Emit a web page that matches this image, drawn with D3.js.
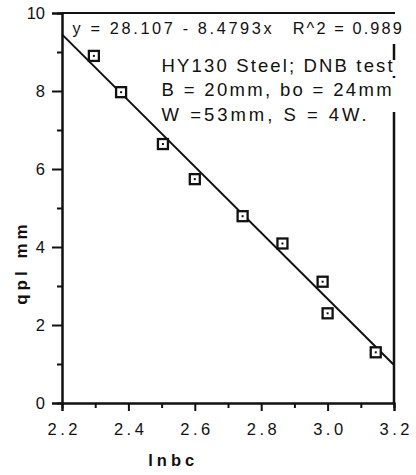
<!DOCTYPE html>
<html>
<head>
<meta charset="utf-8">
<script src="https://cdn.jsdelivr.net/npm/d3@7"></script>
<style>
  body { margin: 0; background: #fff; }
  text { font-family: "Liberation Sans", Arial, sans-serif; fill: #111; }
</style>
</head>
<body>
<div id="graf"></div>
<script>
// datos
const lnbc = [2.296, 2.378, 2.504, 2.60, 2.744, 2.864, 2.985, 3.00, 3.145]
const qpl  = [8.90, 7.97, 6.64, 5.74, 4.79, 4.09, 3.11, 2.30, 1.30]
const xTicks = [2.2, 2.4, 2.6, 2.8, 3.0, 3.2]
const xMinor = [2.3, 2.5, 2.7, 2.9, 3.1]
const yTicks = [0, 2, 4, 6, 8, 10]
const yMinor = [1, 3, 5, 7, 9]
const fit = { a: 28.107, b: -8.4793 }
const ecuacion = ['y = 28.107 - 8.4793x', 'R^2 = 0.989']
const notas = ['HY130 Steel; DNB test', 'B = 20mm, bo = 24mm', 'W =53mm, S = 4W.']

const ancho_total = 416, alto_total = 475
const margins = { top: 13, left: 62, right: 22, bottom: 72 }
const ancho = ancho_total - margins.left - margins.right
const alto = alto_total - margins.top - margins.bottom

const svg = d3.select('#graf').append('svg')
  .attr('width', ancho_total).attr('height', alto_total)
const g = svg.append('g').attr('transform', `translate(${margins.left},${margins.top})`)

const x = d3.scaleLinear().domain([2.2, 3.2]).range([0, ancho])
const y = d3.scaleLinear().domain([0, 10]).range([alto, 0])

// marco: arriba, y derecha cortada por los textos
g.append('line').attr('x1', 0).attr('x2', ancho + 1).attr('y1', 0).attr('y2', 0)
  .attr('stroke', '#111').attr('stroke-width', 2)
const tramos = [[31, 47], [63, 65], [99, alto]]
g.selectAll('.borde').data(tramos).enter().append('line')
  .attr('x1', ancho).attr('x2', ancho)
  .attr('y1', d => d[0]).attr('y2', d => d[1])
  .attr('stroke', '#111').attr('stroke-width', 2.5)

// ejes
const xAxis = g.append('g').attr('transform', `translate(0,${alto})`)
  .call(d3.axisBottom(x).tickValues(xTicks).tickFormat(d3.format('.1f')).tickSize(8).tickPadding(12))
const xAxisMinor = g.append('g').attr('transform', `translate(0,${alto})`)
  .call(d3.axisBottom(x).tickValues(xMinor).tickFormat('').tickSize(5))
const yAxis = g.append('g')
  .call(d3.axisLeft(y).tickValues(yTicks).tickSize(10).tickPadding(7))
const yAxisMinor = g.append('g')
  .call(d3.axisLeft(y).tickValues(yMinor).tickFormat('').tickSize(5))

;[xAxis, xAxisMinor, yAxis, yAxisMinor].forEach(a => {
  a.select('.domain').attr('stroke', '#111').attr('stroke-width', 2)
  a.selectAll('.tick line').attr('stroke', '#111').attr('stroke-width', 2)
})
xAxis.selectAll('text').attr('font-size', 16.5).attr('letter-spacing', '3.5px').attr('fill', '#111')
  .attr('font-family', '"Liberation Sans", Arial, sans-serif').attr('dx', '1.75px')
yAxis.selectAll('text').attr('font-size', 16.5).attr('fill', '#111')
  .attr('font-family', '"Liberation Sans", Arial, sans-serif')

// titulos de ejes
svg.append('text')
  .attr('x', margins.left + x(2.535)).attr('y', 466)
  .attr('text-anchor', 'middle').attr('font-size', 16.5).attr('font-weight', 'bold')
  .attr('letter-spacing', '4px')
  .text('lnbc')
svg.append('text')
  .attr('transform', `translate(27,${margins.top + y(3.6)}) rotate(-90)`)
  .attr('text-anchor', 'middle').attr('font-size', 17).attr('font-weight', 'bold')
  .attr('letter-spacing', '4px')
  .text('qpl  mm')

// recta de ajuste
const recta = d3.line().x(d => x(d)).y(d => y(fit.a + fit.b * d))
g.append('path')
  .attr('d', recta(x.domain()))
  .attr('fill', 'none').attr('stroke', '#111').attr('stroke-width', 2)

// puntos
const datos = lnbc.map((v, i) => ({ x: v, y: qpl[i] }))
const pts = g.selectAll('.pt').data(datos).enter().append('g')
  .attr('class', 'pt')
  .attr('transform', d => `translate(${x(d.x)},${y(d.y)})`)
pts.append('rect').attr('x', -5).attr('y', -5).attr('width', 10).attr('height', 10)
  .attr('fill', '#fff').attr('stroke', '#111').attr('stroke-width', 2.3)
pts.append('rect').attr('x', -1).attr('y', -1).attr('width', 2).attr('height', 2)
  .attr('fill', '#111')

// ecuacion del ajuste
g.append('text').attr('x', x(2.232)).attr('y', 20.5).attr('font-size', 16.3)
  .attr('textLength', 199).attr('lengthAdjust', 'spacing')
  .text(ecuacion[0])
g.append('text').attr('x', x(2.895)).attr('y', 20.5).attr('font-size', 16.3)
  .attr('textLength', 109).attr('lengthAdjust', 'spacing')
  .text(ecuacion[1])

// notas del ensayo
const largos = [231, 230, 205]
notas.forEach((t, i) => {
  g.append('text').attr('x', x(2.5)).attr('y', 58.7 + i * 24.5)
    .attr('font-size', 18.5)
    .attr('textLength', largos[i]).attr('lengthAdjust', 'spacing')
    .text(t)
})
</script>
</body>
</html>
